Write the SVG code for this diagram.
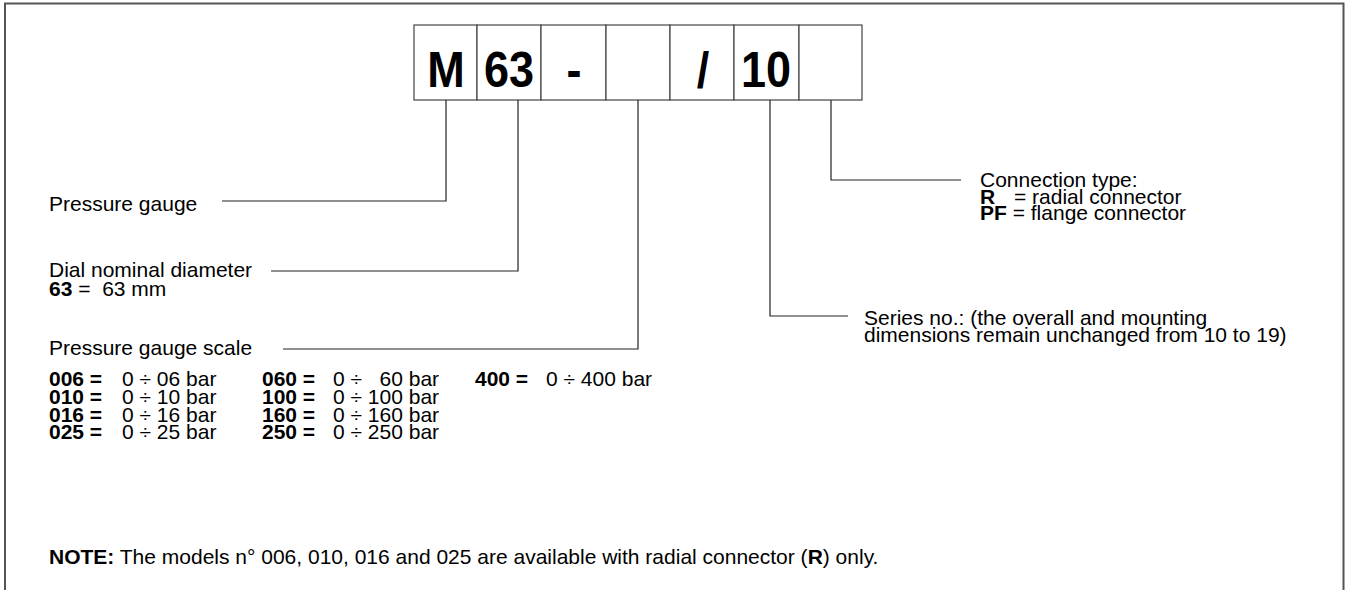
<svg xmlns="http://www.w3.org/2000/svg" width="1345" height="590" viewBox="0 0 1345 590">
<style>
  text { font-family: "Liberation Sans", Arial, sans-serif; font-size: 21px; fill: #000; }
  .big { font-size: 50px; font-weight: bold; text-anchor: middle; }
  .b { font-weight: bold; }
  .box { fill: #fff; stroke: #444; stroke-width: 1.2; }
  .frame { fill: none; stroke: #555; stroke-width: 2; }
  .conn { fill: none; stroke: #222; stroke-width: 1.2; }
</style>
<rect x="0" y="0" width="1345" height="590" fill="#fff"/>
<path class="frame" d="M5,592 V3.5 H1343.5 V592"/>

<g id="code">
  <rect class="box" x="414" y="25" width="63" height="75"/>
  <rect class="box" x="477" y="25" width="64" height="75"/>
  <rect class="box" x="541" y="25" width="65" height="75"/>
  <rect class="box" x="606" y="25" width="64" height="75"/>
  <rect class="box" x="670" y="25" width="64" height="75"/>
  <rect class="box" x="734" y="25" width="65" height="75"/>
  <rect class="box" x="799" y="25" width="63" height="75"/>
  <text class="big" transform="translate(446,87) scale(0.9,1)">M</text>
  <text class="big" transform="translate(509,87) scale(0.9,1)">63</text>
  <text class="big" transform="translate(574,87) scale(0.9,1)">-</text>
  <text class="big" transform="translate(703,87) scale(0.9,1)">/</text>
  <text class="big" transform="translate(766,87) scale(0.9,1)">10</text>
</g>

<g id="connectors">
  <polyline class="conn" points="446,100 446,201 222,201"/>
  <polyline class="conn" points="518,100 518,271 271,271"/>
  <polyline class="conn" points="638,100 638,349 283,349"/>
  <polyline class="conn" points="770,100 770,316 848,316"/>
  <polyline class="conn" points="831,100 831,180 961,180"/>
</g>

<g id="pressure-gauge">
  <text x="49" y="211">Pressure gauge</text>
</g>

<g id="dial-diameter">
  <text x="49" y="277">Dial nominal diameter</text>
  <text x="49" y="296" xml:space="preserve"><tspan class="b">63</tspan> =  63 mm</text>
</g>

<g id="scale">
  <text x="49" y="355">Pressure gauge scale</text>
  <text x="49" y="386" class="b">006 =</text>
  <text x="122" y="386">0 ÷ 06 bar</text>
  <text x="49" y="404" class="b">010 =</text>
  <text x="122" y="404">0 ÷ 10 bar</text>
  <text x="49" y="421.5" class="b">016 =</text>
  <text x="122" y="421.5">0 ÷ 16 bar</text>
  <text x="49" y="439" class="b">025 =</text>
  <text x="122" y="439">0 ÷ 25 bar</text>
  <text x="262" y="386" class="b">060 =</text>
  <text x="333" y="386" xml:space="preserve">0 ÷   60 bar</text>
  <text x="262" y="404" class="b">100 =</text>
  <text x="333" y="404">0 ÷ 100 bar</text>
  <text x="262" y="421.5" class="b">160 =</text>
  <text x="333" y="421.5">0 ÷ 160 bar</text>
  <text x="262" y="439" class="b">250 =</text>
  <text x="333" y="439">0 ÷ 250 bar</text>
  <text x="475" y="386" class="b">400 =</text>
  <text x="546" y="386">0 ÷ 400 bar</text>
</g>

<g id="series">
  <text x="864" y="325">Series no.: (the overall and mounting</text>
  <text x="864" y="342">dimensions remain unchanged from 10 to 19)</text>
</g>

<g id="connection-type">
  <text x="980" y="187">Connection type:</text>
  <text x="980" y="204"><tspan class="b">R</tspan><tspan x="1014">= radial connector</tspan></text>
  <text x="980" y="220"><tspan class="b">PF</tspan> = flange connector</text>
</g>

<g id="note">
  <text x="49" y="564"><tspan class="b">NOTE:</tspan> The models n° 006, 010, 016 and 025 are available with radial connector (<tspan class="b">R</tspan>) only.</text>
</g>
</svg>
